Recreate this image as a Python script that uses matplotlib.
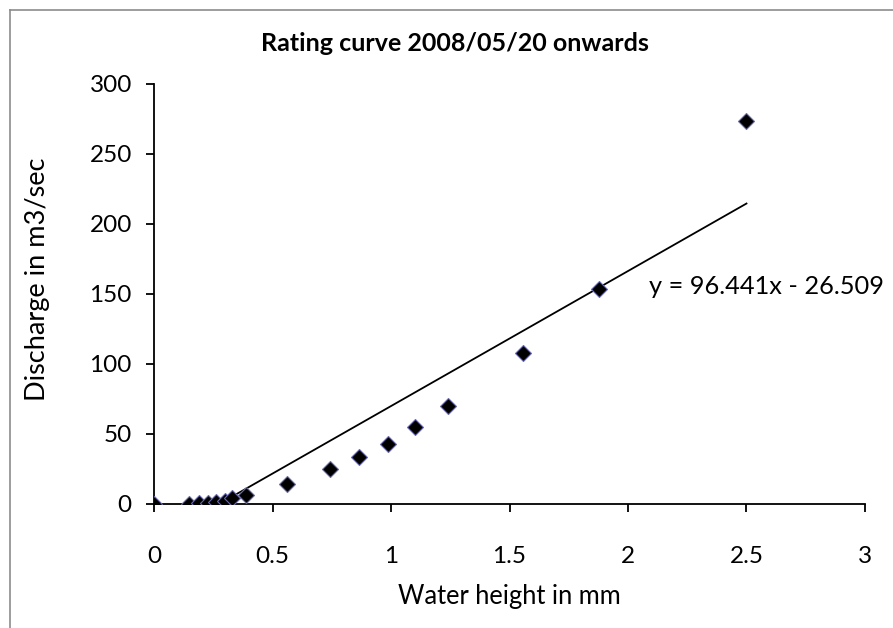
import numpy as np
import matplotlib.pyplot as plt
from matplotlib.lines import Line2D

# water height (mm) and discharge (m3/sec)
height = np.array([0.0, 0.147, 0.19, 0.228, 0.262, 0.298, 0.33, 0.388,
                   0.56, 0.741, 0.866, 0.987, 1.10, 1.239, 1.558, 1.879, 2.50])
discharge = np.array([0.0, 0.2, 0.4, 0.7, 1.2, 2.3, 4.0, 6.5,
                      14.5, 25.2, 33.6, 43.1, 55.0, 69.8, 108.1, 153.6, 273.8])

# linear trendline as printed on the chart
slope = 96.441
intercept = -26.509

plt.rcParams['font.family'] = ['Lato', 'DejaVu Sans']

fig = plt.figure(figsize=(8.93, 6.28), dpi=100)
ax = fig.add_axes([0.1725, 0.1975, 0.7961, 0.6688])

ax.plot(height, discharge, linestyle='none', marker='D', markersize=8,
        markerfacecolor='black', markeredgecolor='#6a6aaa', markeredgewidth=0.8,
        zorder=3)

xl = np.array([height.min(), height.max()])
ax.plot(xl, slope * xl + intercept, color='black', linewidth=1.3, zorder=2)

ax.text(2.09, 155, f"y = {slope}x - {abs(intercept)}", fontsize=18.3,
        va='center', ha='left')

ax.set_xlim(0, 3)
ax.set_ylim(0, 300)
ax.set_xticks(np.arange(0, 3.01, 0.5))
ax.set_xticklabels(['0', '0.5', '1', '1.5', '2', '2.5', '3'])
ax.set_yticks(np.arange(0, 301, 50))

for s in ['top', 'right']:
    ax.spines[s].set_visible(False)
for s in ['left', 'bottom']:
    ax.spines[s].set_linewidth(1.3)
ax.tick_params(direction='out', length=6, width=1.3, labelsize=17.5)
ax.tick_params(axis='x', pad=24)
ax.tick_params(axis='y', pad=10)

ax.set_xlabel("Water height in mm", fontsize=18.4)
ax.set_ylabel("Discharge in m3/sec", fontsize=19.5)
ax.xaxis.set_label_coords(0.5, -0.221)
ax.yaxis.set_label_coords((37 - 154) / 711, (504 - 279) / 420)
ax.xaxis.label.set_va('center')
ax.yaxis.label.set_va('center')

fig.text(455 / 893, 1 - 43.5 / 628, "Rating curve 2008/05/20 onwards",
         fontsize=18, fontweight='bold', ha='center', va='center')

# outer chart frame (gray, cut at right/bottom)
fx = 9.5 / 893
fy = 1 - 9.5 / 628
fig.add_artist(Line2D([fx, fx], [0, fy], transform=fig.transFigure, color='#8c8c8c', linewidth=1.2))
fig.add_artist(Line2D([fx, 1], [fy, fy], transform=fig.transFigure, color='#8c8c8c', linewidth=1.2))

fig.savefig("out.png", dpi=100)
